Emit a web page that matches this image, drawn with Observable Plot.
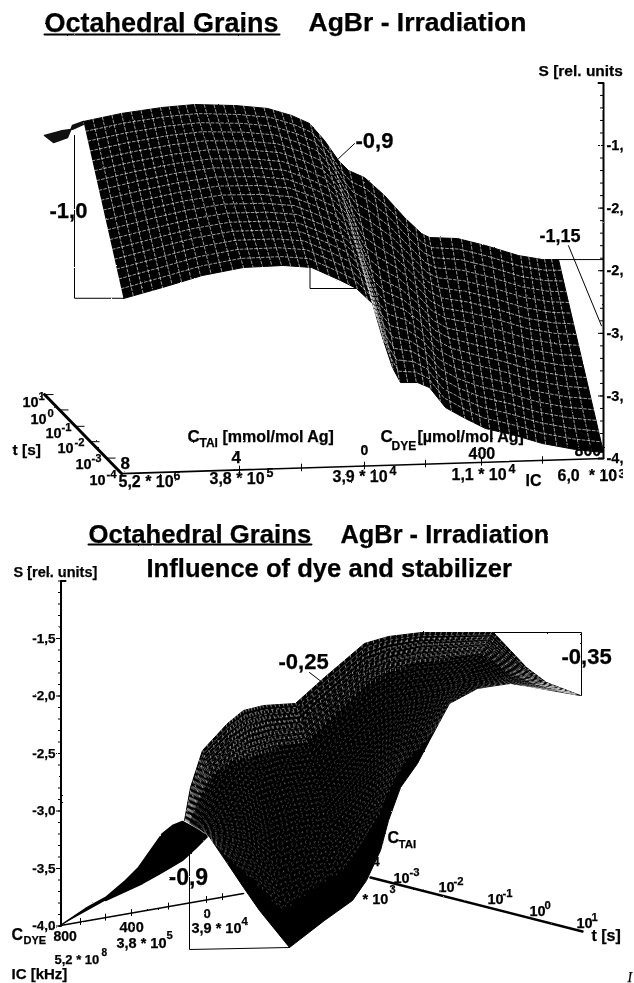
<!DOCTYPE html>
<html><head><meta charset="utf-8">
<script src="https://cdn.jsdelivr.net/npm/d3@7"></script>
<script src="https://cdn.jsdelivr.net/npm/@observablehq/plot@0.6"></script>
<style>html,body{margin:0;padding:0;background:#fff;overflow:hidden}#a svg,#b svg{display:block;background:#fff;filter:url(#rough)}</style>
</head><body>
<svg width="0" height="0" style="position:absolute"><filter id="rough" x="0" y="0" width="100%" height="100%" color-interpolation-filters="sRGB"><feTurbulence type="fractalNoise" baseFrequency="0.55" numOctaves="2" seed="4" result="n"/><feDisplacementMap in="SourceGraphic" in2="n" scale="1.6" xChannelSelector="R" yChannelSelector="G"/></filter></svg>
<div id="a"></div><div id="b"></div>
<script>
// --- Upper surface: projected position and S [rel. units] of its edge stations
const upperX1 = [83,121,162,194,235,267,291,309,324,338,348,364,384,404,421,429,457,485,518,542,558];
const upperS1 = [-1.308,-1.244,-1.196,-1.173,-1.181,-1.204,-1.260,-1.324,-1.460,-1.620,-1.700,-1.756,-1.899,-2.075,-2.203,-2.235,-2.243,-2.299,-2.379,-2.411,-2.411];
const upperX2 = [123,162,202,243,283,311,340,356,372,382,392,400,417,429,445,465,485,515,542,575,603];
const upperS2 = [-2.722,-2.634,-2.538,-2.474,-2.458,-2.474,-2.578,-2.642,-2.762,-3.034,-3.273,-3.393,-3.393,-3.433,-3.593,-3.681,-3.760,-3.816,-3.880,-3.928,-3.952];
const flapX = [83,72,67,53,44,60,72,83];
const flapS = [-1.308,-1.340,-1.436,-1.476,-1.420,-1.385,-1.370,-1.330];
// --- Lower surface
const lowerX1 = [184,190,202,227,243,263,295,324,364,388,421,461,493,526,546,580];
const lowerS1 = [-3.083,-2.796,-2.474,-2.239,-2.126,-2.083,-2.065,-1.839,-1.543,-1.483,-1.448,-1.448,-1.448,-1.752,-1.883,-1.996];
const lowerX2 = [208,227,243,259,289,324,352,366,380,388,400,417,429,449,477,510];
const lowerS2 = [-3.213,-3.457,-3.665,-3.865,-4.187,-3.952,-3.778,-3.604,-3.343,-3.083,-2.796,-2.587,-2.387,-2.065,-1.935,-1.891];
const wingX = [59,85,105,125,138,150,162,172,182,208,195,182,160,142,105];
const wingS = [-4.0,-3.848,-3.752,-3.604,-3.491,-3.343,-3.196,-3.126,-3.091,-3.213,-3.326,-3.430,-3.543,-3.630,-3.778];
// --- Axes
const sTicksMajor = [-1.5,-2.0,-2.5,-3.0,-3.5,-4.0];
const sTicksMinor = d3.range(-40,-9).map(d=>d/10);
const sLabels = ["-1,5","-2,0","-2,5","-3,0","-3,5","-4,0"];
const icLabels = ["5,2 * 10","3,8 * 10","3,9 * 10","1,1 * 10","6,0  * 10"];
const tExp = ["1","0","-1","-2","-3","-4"];
const title = ["Octahedral Grains","AgBr - Irradiation","Influence of dye and stabilizer"];

const sans = "'Liberation Sans',Arial,sans-serif";
function lab(t,x,y,size,extra={}){
  return Plot.text([t],{text:d=>d,frameAnchor:"top-left",dx:x,dy:y,fontSize:size,fontWeight:"bold",fontFamily:sans,
    lineAnchor:"bottom",textAnchor:"start",fill:"black",stroke:"black",strokeWidth:0.25,...extra});
}
function pow(b,e,x,y,size,ex,ey){return [lab(b,x,y,size),lab(e,ex,ey,size*0.78)];}
const poly=(X,S)=>X.map((x,i)=>({x,s:S[i]}));
function mesh(X1,S1,X2,S2,nC,nR,vMin=0,vMax=1){
  const n=X1.length,out=[];
  const at=(A,f)=>{const i=Math.min(Math.floor(f),n-2),u=f-i;return A[i]*(1-u)+A[i+1]*u;};
  const cum=[0];for(let i=1;i<n;i++)cum.push(cum[i-1]+Math.abs(X1[i]-X1[i-1])+Math.abs(X2[i]-X2[i-1])+1);
  const idx=d=>{let i=0;while(i<n-2&&cum[i+1]<d)i++;return i+(d-cum[i])/(cum[i+1]-cum[i]);};
  for(let c=1;c<nC;c++){const f=idx(c/nC*cum[n-1]);
    out.push({x:at(X1,f)*(1-vMin)+at(X2,f)*vMin,s:at(S1,f)*(1-vMin)+at(S2,f)*vMin,id:"c"+c});
    out.push({x:at(X1,f)*(1-vMax)+at(X2,f)*vMax,s:at(S1,f)*(1-vMax)+at(S2,f)*vMax,id:"c"+c});}
  for(let r=1;r<nR;r++){const v=vMin+(vMax-vMin)*r/nR;
    for(let i=0;i<n;i++)out.push({x:X1[i]*(1-v)+X2[i]*v,s:S1[i]*(1-v)+S2[i]*v,id:"r"+r});}
  return out;
}
const outline=(X1,S1,X2,S2)=>[...poly(X1,S1),...poly(X2,S2).reverse()];
const seg=(p,w=1,extra={})=>Plot.line(p.map(([x,s])=>({x,s})),{x:"x",y:"s",stroke:"black",strokeWidth:w,curve:"linear",...extra});

// ---------- upper chart
const U=y=>-1.5-(y-145)/125.2;
const baseS=x=>-4.12+0.12*(x-121)/482;
const upper=Plot.plot({width:634,height:500,margin:0,
  x:{domain:[0,634],range:[0,634],axis:null},y:{domain:[-0.342,-4.335],range:[0,500],axis:null},
  marks:[
    lab(title[0],44,31,27),lab(title[1],308,30,26.5),
    seg([[44,U(34)],[279,U(34)]],2),
    seg([[74,-1.42],[74,-2.72],[123,-2.72]],1),
    seg([[309.5,-2.47],[309.5,-2.642],[356,-2.642]],1),
    seg([[558,-2.411],[603,-2.411]],1),
    seg([[568,-2.30],[601,-2.94]],1),
    seg([[354,-1.485],[338,-1.605]],1),
    Plot.line(poly(flapX,flapS),{x:"x",y:"s",fill:"#111",stroke:"#111"}),
    Plot.line(outline(upperX1,upperS1,upperX2,upperS2),{x:"x",y:"s",fill:"#000",stroke:"#000",strokeWidth:1}),
    Plot.line(mesh(upperX1,upperS1,upperX2,upperS2,50,18),{x:"x",y:"s",z:"id",stroke:"white",strokeWidth:0.85,strokeOpacity:0.72,strokeDasharray:"2.8 2"}),
    seg([[598,-1.0],[603,-1.0],[603,-4.0],[598,-4.0]],2),
    Plot.ruleY(sTicksMinor,{y:d=>d,x1:600,x2:603,stroke:"black",strokeWidth:1}),
    Plot.ruleY(sTicksMajor,{y:d=>d,x1:598,x2:603,stroke:"black",strokeWidth:1}),
    Plot.text(sTicksMajor,{y:d=>d,x:()=>606,text:(d,i)=>sLabels[i],textAnchor:"start",fontSize:14.5,fontWeight:"bold",fontFamily:sans,fill:"black",stroke:"black",strokeWidth:0.25}),
    lab("S [rel. units]",538,75,15.5),
    seg([[121,baseS(121)],[603,baseS(603)]],1.6),
    Plot.ruleX([239,301,364,425,481,542],{x:d=>d,y1:d=>baseS(d)+0.03,y2:d=>baseS(d)-0.03,stroke:"black",strokeWidth:1}),
    seg([[44,-3.489],[121,-4.12]],3),
    Plot.link([44,59,75,90,106],{x1:d=>d,x2:d=>d+9,y1:d=>-3.489-(d-44)*0.63/77,y2:d=>-3.489-(d-44)*0.63/77,stroke:"black",strokeWidth:1}),
    lab("-0,9",355,147,22),lab("-1,0",49,217,22),lab("-1,15",539,241,18),
    lab("t [s]",12,454,15.5),
    ...pow("10",tExp[0],22,406,14.5,38,399),...pow("10",tExp[1],30,423,14.5,47,416),...pow("10",tExp[2],45,437,14.5,61,430),
    ...pow("10",tExp[3],57,452,14.5,74,445),...pow("10",tExp[4],75,468,14.5,91,461),...pow("10",tExp[5],89,484,14.5,106,477),
    lab("8",120,468,17),
    ...pow(icLabels[0],"6",118,486,16,173,479),...pow(icLabels[1],"5",209,483,16,266,476),...pow(icLabels[2],"4",332,481,16,389,474),
    ...pow(icLabels[3],"4",451,479,16,508,472),...pow(icLabels[4],"3",557,480,16,618,477),
    lab("IC",525,485,16),
    lab("4",231,462,17),lab("0",360,454,14),lab("400",468,458,16),lab("800",574,455,16),
    lab("C",187,441,17),lab("TAI",199,446,12),lab("[mmol/mol Ag]",222,441,16),
    lab("C",380,441,17),lab("DYE",391,449,12),lab("[µmol/mol Ag]",417,441,16),
    Plot.rect([0],{x1:()=>623,x2:()=>634,y1:()=>-0.342,y2:()=>-4.335,fill:"white"})
  ]});
document.getElementById("a").append(upper);

// ---------- lower chart
const Y=y=>-1.5-(y-638)/115;
const lower=Plot.plot({width:634,height:483,margin:0,
  x:{domain:[0,634],range:[0,634],axis:null},y:{domain:[-0.3,-4.5],range:[0,483],axis:null},
  marks:[
    lab(title[0],88,42,25.7),lab(title[1],340,42,25.4),lab(title[2],146,76,25.6),
    seg([[88,Y(544)],[311,Y(544)]],2),
    lab("S [rel. units]",13,76,14.5),
    seg([[493,Y(632)],[581,Y(632)],[581,Y(695)]],1),
    seg([[189,Y(853)],[189,Y(949)],[289,Y(947)]],1),
    seg([[309,Y(672)],[322,Y(682)]],1),
    seg([[60,Y(925)],[243,Y(893)]],1.6),
    Plot.ruleX([80,105,131,168,206,222],{x:d=>d,y1:d=>Y(925-(d-60)*32/183)+0.03,y2:d=>Y(925-(d-60)*32/183)-0.03,stroke:"black",strokeWidth:1}),
    seg([[370,Y(877)],[582,Y(931)]],2.4),
    Plot.line(poly(wingX,wingS),{x:"x",y:"s",fill:"black",stroke:"black"}),
    Plot.line(outline(lowerX1,lowerS1,lowerX2,lowerS2),{x:"x",y:"s",fill:"#000",stroke:"#000",strokeWidth:1}),
    Plot.line(mesh(lowerX1,lowerS1,lowerX2,lowerS2,90,40,0,0.85),{x:"x",y:"s",z:"id",stroke:"white",strokeWidth:0.6,strokeOpacity:0.38,strokeDasharray:"1.2 4.5"}),
    Plot.line(mesh(lowerX1,lowerS1,lowerX2,lowerS2,90,10,0,0.2),{x:"x",y:"s",z:"id",stroke:"white",strokeWidth:0.7,strokeOpacity:0.5,strokeDasharray:"2 3.5"}),
    seg([[65,-1.0],[60.5,-1.0],[60.5,-4.0]],2),
    Plot.ruleY(sTicksMinor,{y:d=>d,x1:58,x2:61,stroke:"black",strokeWidth:1}),
    Plot.ruleY(sTicksMajor,{y:d=>d,x1:56,x2:61,stroke:"black",strokeWidth:1}),
    Plot.text(sTicksMajor,{y:d=>d,x:()=>55,text:(d,i)=>sLabels[i],textAnchor:"end",fontSize:13.5,fontWeight:"bold",fontFamily:sans,fill:"black",stroke:"black",strokeWidth:0.25}),
    lab("-0,25",278,168,22),lab("-0,35",561,163,22),lab("-0,9",168,384,23),
    lab("C",11,439,16),lab("DYE",23,443,11),lab("800",53,440,14),lab("400",119,431,14.5),
    ...pow(icLabels[1],"5",116,447,14.5,166,438),lab("0",203,417,13),...pow(icLabels[2],"4",191,432,14.5,241,424),
    ...pow(icLabels[0],"8",54,463,13,101,455),lab("IC [kHz]",11,478,15),
    lab("C",387,342,16),lab("TAI",398,347,11.5),lab("4",372,365,13),lab("* 10",362,403,14.5),lab("3",389,392,11),
    ...pow("10",tExp[4],393,382,14.5,409,375),...pow("10",tExp[3],438,391,14.5,453,384),...pow("10",tExp[2],487,403,14.5,502,396),
    ...pow("10",tExp[1],529,415,14.5,544,408),...pow("10",tExp[0],576,427,14.5,591,420),
    lab("t [s]",591,440,16),
    lab("I",627,481,14,{fontFamily:"'Liberation Serif',serif",fontStyle:"italic",fontWeight:"normal"})
  ]});
document.getElementById("b").append(lower);
</script></body></html>
